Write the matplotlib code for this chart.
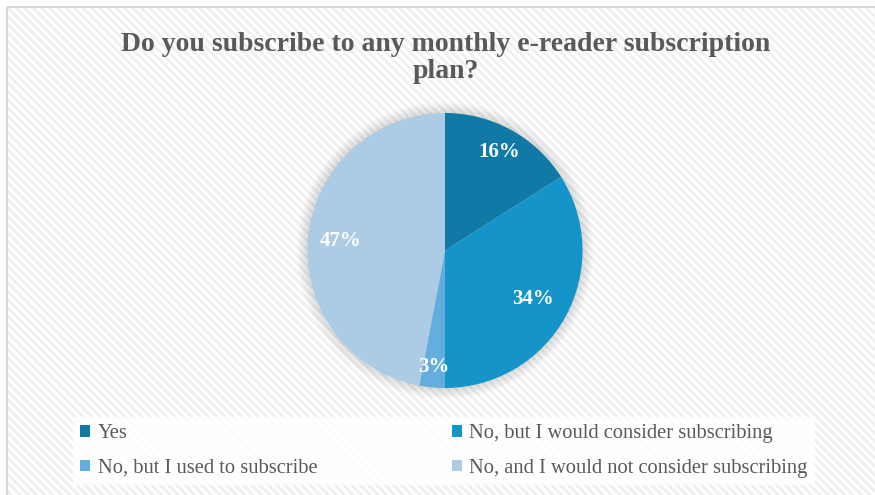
import numpy as np
import matplotlib.pyplot as plt
from matplotlib.patches import Rectangle, Circle

plt.rcParams["font.family"] = ["Liberation Serif", "DejaVu Serif"]

# ── Data ───────────────────────────────────────────────────────────────────────
labels = [
    "Yes",
    "No, but I would consider subscribing",
    "No, but I used to subscribe",
    "No, and I would not consider subscribing",
]
shares = [16, 34, 3, 47]
colors = ["#1079A6", "#1494C8", "#64AEDD", "#ACCCE6"]
label_radius = [0.82, 0.73, 0.85, 0.76]

W, H = 875, 495
fig = plt.figure(figsize=(W / 100, H / 100), dpi=100)

# ── Background panel with diagonal stripes ─────────────────────────────────────
bg = fig.add_axes([0, 0, 1, 1], zorder=0)
bg.set_xlim(0, W)
bg.set_ylim(H, 0)
bg.axis("off")
bg.add_patch(Rectangle((0, 0), W, H, facecolor="white", edgecolor="none"))
plt.rcParams["hatch.linewidth"] = 2.0
bg.add_patch(Rectangle((7, 7), W + 20, H + 20, facecolor="white",
                       edgecolor="#F0F0F0", linewidth=0, hatch="\\\\\\\\"))
bg.add_patch(Rectangle((7, 7), W + 20, H + 20, facecolor="none",
                       edgecolor="#D9D9D9", linewidth=1.5))

fig.text(446 / W, 1 - 58 / H,
         "Do you subscribe to any monthly e-reader subscription\nplan?",
         ha="center", va="center", fontsize=20, fontweight="bold",
         color="#595959", linespacing=1.15)

# ── Pie ────────────────────────────────────────────────────────────────────────
cx, cy, r = 445, 250.5, 137.5
span = 1.25
ax = fig.add_axes([(cx - r * span) / W, 1 - (cy + r * span) / H,
                   2 * r * span / W, 2 * r * span / H], zorder=1)
ax.set_xlim(-span, span)
ax.set_ylim(-span, span)
ax.set_aspect("equal")
ax.axis("off")

# soft glow behind the pie
for i in range(8):
    ax.add_patch(Circle((0, 0), 1.0 + 0.01 * (i + 1), facecolor="#000000",
                        edgecolor="none", alpha=0.015, zorder=0))

wedges, _ = ax.pie(shares, colors=colors, startangle=90, counterclock=False,
                   radius=1.0, wedgeprops=dict(linewidth=0))
for w in wedges:
    w.set_zorder(2)

for w, val, lr in zip(wedges, shares, label_radius):
    mid = np.deg2rad((w.theta1 + w.theta2) / 2)
    ax.text(lr * np.cos(mid), lr * np.sin(mid), f"{val}%", ha="center",
            va="center", fontsize=15, fontweight="bold", color="white",
            zorder=3)

# ── Legend ─────────────────────────────────────────────────────────────────────
order = [0, 2, 1, 3]
leg = fig.legend([wedges[i] for i in order], [labels[i] for i in order],
                 ncol=2, loc="center left", mode="expand",
                 bbox_to_anchor=(73 / W, 1 - 451 / H, (815 - 73) / W, 0),
                 frameon=True, fancybox=False, facecolor="white",
                 edgecolor="none", framealpha=0.85, fontsize=14.8,
                 handlelength=0.5, handleheight=0.5, handletextpad=0.35,
                 labelspacing=0.75, borderpad=0.35, borderaxespad=0)
for t in leg.get_texts():
    t.set_color("#595959")

fig.savefig("out.png", dpi=100)
